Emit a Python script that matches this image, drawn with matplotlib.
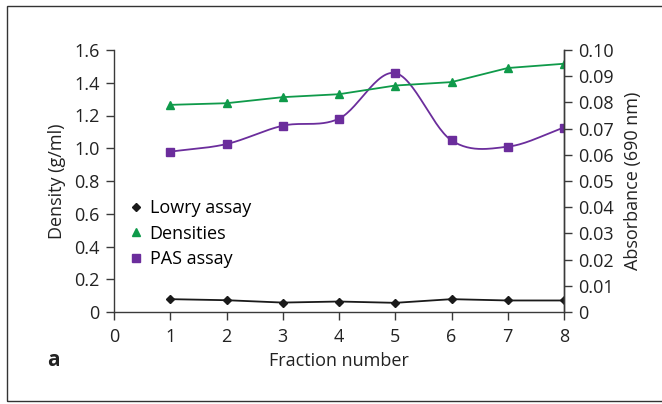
import numpy as np
import matplotlib
matplotlib.use("Agg")
import matplotlib.pyplot as plt
from matplotlib.patches import Rectangle
from matplotlib.lines import Line2D

plt.rcParams['font.family'] = ['Open Sans', 'DejaVu Sans']

fractions = [1, 2, 3, 4, 5, 6, 7, 8]
densities = [1.265, 1.275, 1.312, 1.330, 1.383, 1.404, 1.490, 1.516]
pas_assay = [0.0612, 0.0641, 0.0711, 0.0738, 0.0912, 0.0655, 0.0631, 0.0704]
lowry_assay = [0.0049, 0.0045, 0.0036, 0.0040, 0.0035, 0.0049, 0.0044, 0.0044]

left_ticks = [0, 0.2, 0.4, 0.6, 0.8, 1.0, 1.2, 1.4, 1.6]
left_labels = ["0", "0.2", "0.4", "0.6", "0.8", "1.0", "1.2", "1.4", "1.6"]
right_ticks = [0, 0.01, 0.02, 0.03, 0.04, 0.05, 0.06, 0.07, 0.08, 0.09, 0.10]
right_labels = ["0", "0.01", "0.02", "0.03", "0.04", "0.05", "0.06", "0.07", "0.08", "0.09", "0.10"]
x_ticks = [0, 1, 2, 3, 4, 5, 6, 7, 8]

GREEN = "#0f9a4a"
PURPLE = "#6b2d9c"
BLACK = "#1a1a1a"
AXC = "#3a3a3a"
TXT = "#222222"
FS = 13


def catmull_rom(x, y, n=30):
    x = np.asarray(x, float)
    y = np.asarray(y, float)
    px = np.concatenate([[2 * x[0] - x[1]], x, [2 * x[-1] - x[-2]]])
    py = np.concatenate([[2 * y[0] - y[1]], y, [2 * y[-1] - y[-2]]])
    xs, ys = [], []
    for i in range(1, len(px) - 2):
        t = np.linspace(0, 1, n)
        m0x = (px[i + 1] - px[i - 1]) / 2
        m1x = (px[i + 2] - px[i]) / 2
        m0y = (py[i + 1] - py[i - 1]) / 2
        m1y = (py[i + 2] - py[i]) / 2
        h00 = 2 * t**3 - 3 * t**2 + 1
        h10 = t**3 - 2 * t**2 + t
        h01 = -2 * t**3 + 3 * t**2
        h11 = t**3 - t**2
        xs.append(h00 * px[i] + h10 * m0x + h01 * px[i + 1] + h11 * m1x)
        ys.append(h00 * py[i] + h10 * m0y + h01 * py[i + 1] + h11 * m1y)
    return np.concatenate(xs), np.concatenate(ys)


fig = plt.figure(figsize=(6.62, 4.04), dpi=100)
fig.patches.append(Rectangle((7 / 662, 3 / 404), 1.2, 395 / 404, transform=fig.transFigure,
                             fill=False, edgecolor="#333333", linewidth=1.0))

ax = fig.add_axes([114 / 662, 1 - 312 / 404, 450 / 662, 262 / 404])
ax2 = ax.twinx()

ax.plot(fractions, densities, color=GREEN, marker="^", markersize=5.5, linewidth=1.3)
ax2.plot(fractions, lowry_assay, color=BLACK, marker="D", markersize=4.3, linewidth=1.3)
sx, sy = catmull_rom(fractions, pas_assay)
ax2.plot(sx, sy, color=PURPLE, linewidth=1.3)
ax2.plot(fractions, pas_assay, color=PURPLE, marker="s", markersize=5.5, linestyle="none")

ax.set_xlim(0, 8)
ax.set_ylim(0, 1.6)
ax2.set_ylim(0, 0.10)
ax.set_xticks(x_ticks)
ax.set_xticklabels([str(v) for v in x_ticks], fontsize=FS, color=TXT)
ax.set_yticks(left_ticks)
ax.set_yticklabels(left_labels, fontsize=FS, color=TXT)
ax2.set_yticks(right_ticks)
ax2.set_yticklabels(right_labels, fontsize=FS, color=TXT)

for a in (ax, ax2):
    a.spines["top"].set_visible(False)
    for s in ("left", "right", "bottom"):
        a.spines[s].set_color(AXC)
        a.spines[s].set_linewidth(1.0)
    a.tick_params(direction="out", length=6, width=1.0, color=AXC)
ax.tick_params(axis="x", pad=5.5)
ax.tick_params(axis="y", pad=4.5)
ax2.tick_params(axis="y", pad=4.5)
ax2.spines["left"].set_visible(False)
ax2.spines["bottom"].set_visible(False)
ax.patch.set_visible(False)
ax.set_zorder(ax2.get_zorder() + 1)

ax.set_xlabel("Fraction number", fontsize=FS, color=TXT, labelpad=4.5)
ax.set_ylabel("Density (g/ml)", fontsize=FS, color=TXT, labelpad=6)
ax2.set_ylabel("Absorbance (690 nm)", fontsize=FS, color=TXT, labelpad=7)

handles = [
    Line2D([], [], color=BLACK, marker="D", markersize=4.5, linestyle="none"),
    Line2D([], [], color=GREEN, marker="^", markersize=6, linestyle="none"),
    Line2D([], [], color=PURPLE, marker="s", markersize=6, linestyle="none"),
]
ax.legend(handles, ["Lowry assay", "Densities", "PAS assay"], loc="upper left",
          bbox_to_anchor=(0.025, 0.445), frameon=False, fontsize=FS,
          handlelength=0.8, handletextpad=0.35, labelspacing=0.42, borderpad=0.2,
          borderaxespad=0)

fig.text(47 / 662, 1 - 360 / 404, "a", fontsize=15, fontweight="bold", color=TXT,
         ha="left", va="center")

fig.savefig("out.png", dpi=100)
